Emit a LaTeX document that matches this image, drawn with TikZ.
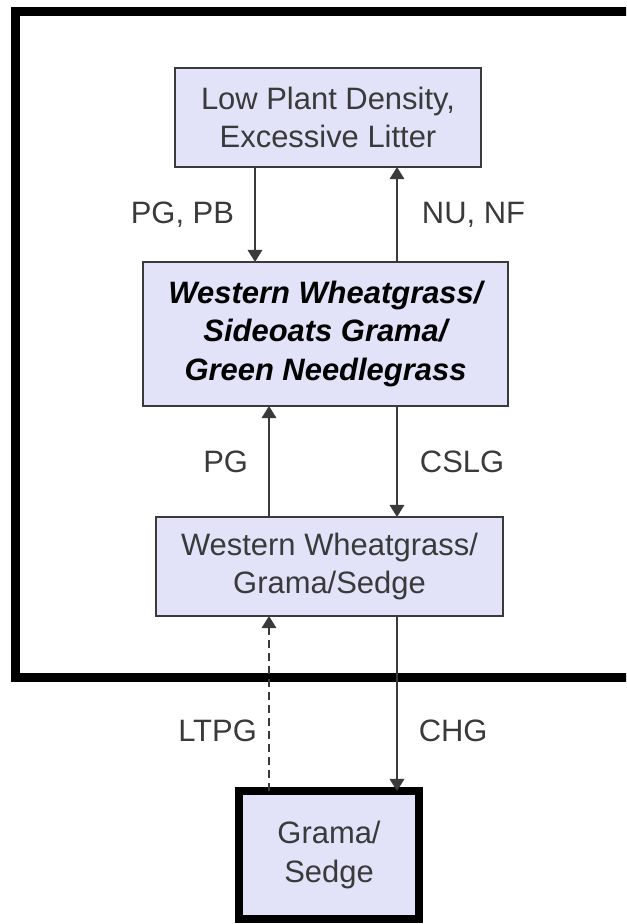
\documentclass[tikz,border=0pt]{standalone}
\usepackage{fontspec}
\setmainfont{Liberation Sans}
\usepackage{xcolor}
\usepackage{tikz}
\usetikzlibrary{arrows.meta,positioning,calc}

\definecolor{boxfill}{RGB}{226,226,248}
\definecolor{inkgray}{RGB}{58,58,58}

\tikzset{
  statebox/.style={draw=inkgray,line width=1.4pt,fill=boxfill,align=center,text=inkgray,
    inner sep=0pt,outer sep=0pt,font=\fontsize{22}{27.5}\selectfont},
  flow/.style={->,line width=1.4pt,draw=inkgray},
  lab/.style={text=inkgray,inner sep=0pt,font=\fontsize{22}{27.5}\selectfont}
}

\begin{document}
\begin{tikzpicture}[x=0.025cm,y=-0.025cm,>={Triangle[length=0.3cm,width=0.36cm]}]
  \useasboundingbox (0,0) rectangle (626,924);
  % frame round the upper states
  \begin{scope}
    \clip (0,0) rectangle (626,924);
    \draw[line width=0.21cm] (15.5,11.5) rectangle (680,677.5);
  \end{scope}

  \node[statebox,minimum width=7.65cm,minimum height=2.475cm] (litter) at (328,117.5)
    {Low Plant Density,\\Excessive Litter};
  \node[statebox,minimum width=9.125cm,minimum height=3.6cm,text=black,
        font=\fontsize{22}{27.5}\selectfont\bfseries\itshape] (ref) at (325.5,334)
    {Western Wheatgrass/\\Sideoats Grama/\\Green Needlegrass};
  \node[statebox,minimum width=8.675cm,minimum height=2.475cm] (wgs) at (329.5,566.5)
    {Western Wheatgrass/\\Grama/Sedge};
  \node[statebox,draw=black,line width=0.2cm,minimum width=4.5cm,minimum height=3.2cm] (gs) at (329,855)
    {Grama/\\Sedge};

  % arrow columns
  \coordinate (c1) at ($(litter.south)+(-73,0)$);
  \coordinate (c2) at ($(litter.south)+(69,0)$);
  \coordinate (c3) at ($(ref.south)+(-56.5,0)$);
  \coordinate (c4) at ($(ref.south)+(71.5,0)$);
  \coordinate (c5) at ($(wgs.south)+(-60.5,0)$);
  \coordinate (c6) at ($(wgs.south)+(67.5,0)$);

  \draw[flow] (c1) -- (c1 |- ref.north) node[lab,midway,left=0.5cm] {PG, PB};
  \draw[flow] (c2 |- ref.north) -- (c2) node[lab,midway,right=0.6cm] {NU, NF};
  \draw[flow] (c3 |- wgs.north) -- (c3) node[lab,midway,left=0.5cm] {PG};
  \draw[flow] (c4 |- ref.south) -- (c4 |- wgs.north) node[lab,midway,right=0.55cm] {CSLG};
  \draw[flow,dash pattern=on 0.2cm off 0.125cm] (c5 |- gs.north) -- (c5)
    node[lab,pos=0.345,left=0.28cm] {LTPG};
  \draw[flow] (c6) -- (c6 |- gs.north) node[lab,pos=0.655,right=0.52cm] {CHG};
\end{tikzpicture}
\end{document}
